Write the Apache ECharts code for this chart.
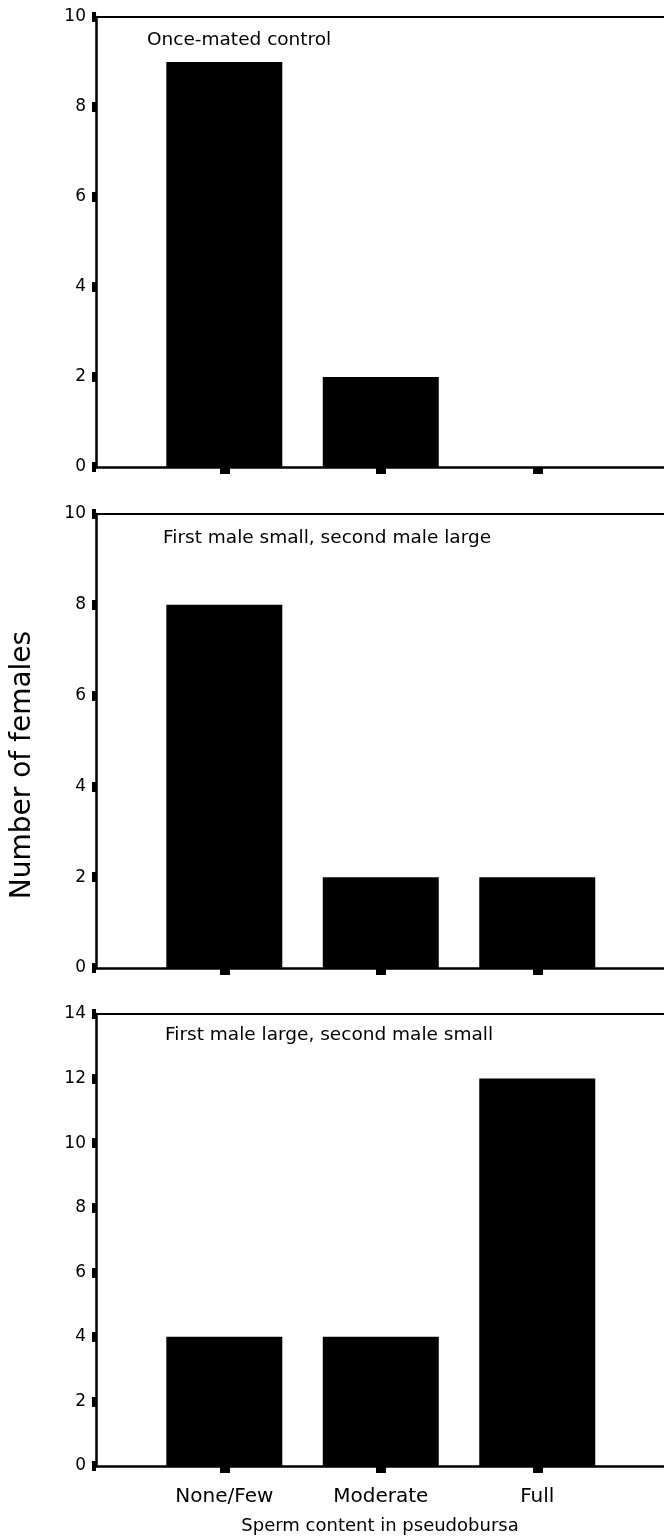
<!DOCTYPE html>
<html><head><meta charset="utf-8">
<script src="https://cdn.jsdelivr.net/npm/echarts@6/dist/echarts.min.js"></script>
<style>html,body{margin:0;padding:0;background:#fff}#c{width:664px;height:1540px}</style>
</head><body><div id="c"></div>
<script>
const categories = ['None/Few', 'Moderate', 'Full'];
const panelTitles = ['Once-mated control', 'First male small, second male large', 'First male large, second male small'];
const onceMated = [9, 2, 0];
const smallThenLarge = [8, 2, 2];
const largeThenSmall = [4, 4, 12];
const yMax = [10, 10, 14];
const yInterval = 2;
const yTitle = 'Number of females';
const xTitle = 'Sperm content in pseudobursa';

const FONT = 'DejaVu Sans';
const seriesData = [onceMated, smallThenLarge, largeThenSmall];
const grids = [
  {left: 96, right: 0, top: 17, height: 450},
  {left: 96, right: 0, top: 514, height: 454},
  {left: 96, right: 0, top: 1014, height: 452}
];
const titlePos = [[147, 40], [163, 538], [165, 1035]];
const xMin = -0.82, xMax = 2.81;
const idx = categories.map((_, i) => i);

const xAxes = [], yAxes = [], series = [], graphics = [];
grids.forEach((g, p) => {
  const isLast = p === grids.length - 1;
  xAxes.push({
    type: 'value', gridIndex: p, min: xMin, max: xMax, position: 'bottom',
    axisLine: {show: true, onZero: false, lineStyle: {color: '#000', width: 2.5}},
    axisTick: {show: true, customValues: idx, length: 7, lineStyle: {color: '#000', width: 10}},
    axisLabel: {show: isLast, customValues: idx, margin: 21, color: '#000', fontFamily: FONT, fontSize: 20,
      formatter: v => categories[Math.round(v)] || ''},
    splitLine: {show: false},
    name: isLast ? xTitle : '', nameLocation: 'middle', nameGap: 51,
    nameTextStyle: {color: '#000', fontFamily: FONT, fontSize: 18}
  });
  xAxes.push({
    type: 'value', gridIndex: p, min: xMin, max: xMax, position: 'top',
    axisLine: {show: true, onZero: false, lineStyle: {color: '#000', width: 2}},
    axisTick: {show: false}, axisLabel: {show: false}, splitLine: {show: false}
  });
  yAxes.push({
    type: 'value', gridIndex: p, min: 0, max: yMax[p], interval: yInterval,
    axisLine: {show: true, onZero: false, lineStyle: {color: '#000', width: 2.5}},
    axisTick: {show: true, length: 4, lineStyle: {color: '#000', width: 10}},
    axisLabel: {color: '#000', fontFamily: FONT, fontSize: 17, margin: 10},
    splitLine: {show: false}
  });
  series.push({
    type: 'bar', xAxisIndex: p * 2, yAxisIndex: p, barWidth: 116,
    itemStyle: {color: '#000'},
    data: seriesData[p].map((v, i) => [i, v]),
    silent: true
  });
  graphics.push({
    type: 'text', x: titlePos[p][0], y: titlePos[p][1],
    style: {text: panelTitles[p], fill: '#000', font: '18.5px "' + FONT + '"', align: 'left', verticalAlign: 'middle'}
  });
});
graphics.push({
  type: 'text', x: 23, y: 765, rotation: Math.PI / 2,
  style: {text: yTitle, fill: '#000', font: '28px "' + FONT + '"', align: 'center', verticalAlign: 'middle'}
});

const chart = echarts.init(document.getElementById('c'), null, {renderer: 'canvas'});
chart.setOption({
  animation: false,
  backgroundColor: '#fff',
  grid: grids,
  xAxis: xAxes,
  yAxis: yAxes,
  series: series,
  graphic: graphics
});
</script></body></html>
